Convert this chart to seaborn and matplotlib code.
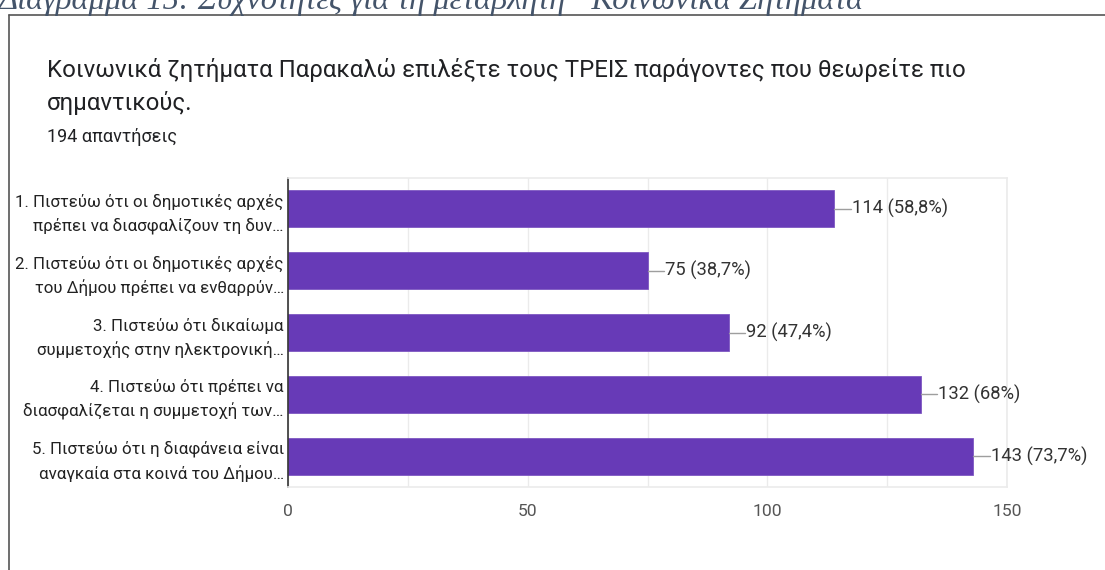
import matplotlib
matplotlib.use("Agg")
import matplotlib.pyplot as plt
import seaborn as sns
import pandas as pd

categories = [
    "1. Πιστεύω ότι οι δημοτικές αρχές\nπρέπει να διασφαλίζουν τη δυν…",
    "2. Πιστεύω ότι οι δημοτικές αρχές\nτου Δήμου πρέπει να ενθαρρύν…",
    "3. Πιστεύω ότι δικαίωμα\nσυμμετοχής στην ηλεκτρονική…",
    "4. Πιστεύω ότι πρέπει να\nδιασφαλίζεται η συμμετοχή των…",
    "5. Πιστεύω ότι η διαφάνεια είναι\nαναγκαία στα κοινά του Δήμου…",
]
counts = [114, 75, 92, 132, 143]
value_labels = ["114 (58,8%)", "75 (38,7%)", "92 (47,4%)", "132 (68%)", "143 (73,7%)"]
x_ticks = [0, 50, 100, 150]

title_lines = ["Κοινωνικά ζητήματα Παρακαλώ επιλέξτε τους ΤΡΕΙΣ παράγοντες που θεωρείτε πιο",
               "σημαντικούς."]
subtitle = "194 απαντήσεις"
caption = "Διάγραμμα 15: Συχνότητες για τη μεταβλητή “Κοινωνικά Ζητήματα”"

sns.set_theme(style="white")
plt.rcParams['font.family'] = ['Roboto', 'DejaVu Sans']

W, H = 1105, 570
fig = plt.figure(figsize=(W / 100, H / 100), dpi=100)

# outer frame box
fig.add_artist(plt.Line2D([9 / W, 9 / W], [0, 1 - 15 / H], color="#555555", lw=1.2))
fig.add_artist(plt.Line2D([9 / W, 1], [1 - 15 / H, 1 - 15 / H], color="#555555", lw=1.2))

# caption (clipped at top, as in the reference)
fig.text(-2 / W, 1 - 9 / H, caption, family=['Liberation Serif', 'DejaVu Serif'], style='italic',
         fontsize=23.4, color="#44546a", va='baseline', ha='left')

fig.text(47 / W, 1 - 70 / H, title_lines[0], fontsize=17.3, color="#202124", va='center', ha='left')
fig.text(47 / W, 1 - 103 / H, title_lines[1], fontsize=17.3, color="#202124", va='center', ha='left')
fig.text(47 / W, 1 - 137 / H, subtitle, fontsize=13, color="#202124", va='center', ha='left')

left, right, top, bottom = 288 / W, 1007 / W, 1 - 178 / H, 1 - 487 / H
ax = fig.add_axes([left, bottom, right - left, top - bottom])

df = pd.DataFrame({"cat": categories, "count": counts})
sns.barplot(data=df, x="count", y="cat", orient="h", color="#673ab7", width=0.6,
            saturation=1, edgecolor="#7e57c2", linewidth=0.6, ax=ax)

ax.set_xlim(0, 150)
ax.set_ylim(4.5, -0.5)
ax.set_xticks(x_ticks)
ax.set_xticks([25, 75, 125], minor=True)
ax.grid(axis='x', which='both', color="#ebebeb", lw=1)
ax.set_axisbelow(True)
ax.set_xlabel("")
ax.set_ylabel("")
for s in ["top", "right", "bottom"]:
    ax.spines[s].set_color("#ebebeb")
    ax.spines[s].set_linewidth(1.2)
ax.spines["left"].set_color("#333333")
ax.spines["left"].set_linewidth(1.2)
ax.tick_params(axis='x', which='both', length=0, pad=12, labelsize=12.6, labelcolor="#555555")
ax.tick_params(axis='y', length=0, pad=3, labelsize=12.2, labelcolor="#222222")
for lbl in ax.get_yticklabels():
    lbl.set_linespacing(1.55)

for i, (v, t) in enumerate(zip(counts, value_labels)):
    ax.plot([v, v + 3.4], [i, i], color="#9e9e9e", lw=1, clip_on=False)
    ax.text(v + 3.6, i, t, fontsize=13.2, color="#333333", va='center', ha='left', clip_on=False)

fig.savefig("out.png", dpi=100)
